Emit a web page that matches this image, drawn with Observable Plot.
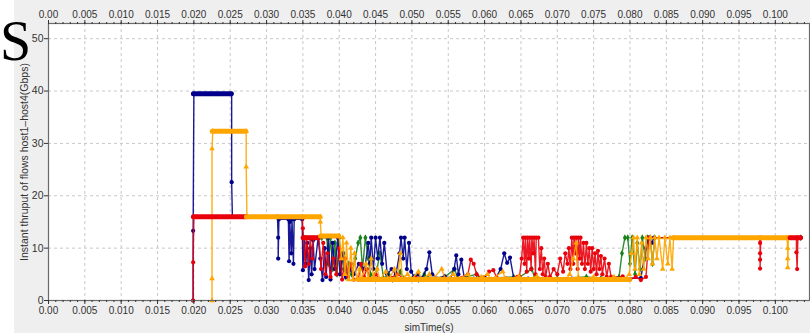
<!DOCTYPE html>
<html><head><meta charset="utf-8">
<script src="https://cdn.jsdelivr.net/npm/d3@7"></script>
<script src="https://cdn.jsdelivr.net/npm/@observablehq/plot@0.6"></script>
<style>
html,body{margin:0;padding:0;background:#fff;}
#wrap{position:relative;width:810px;height:333px;overflow:hidden;}
#chart svg{display:block;}
#deco{position:absolute;left:0;top:0;pointer-events:none;}
</style></head><body>
<div id="wrap"><div id="chart"></div>
<svg id="deco" width="60" height="90"><text x="0" y="60" font-size="56" font-family="Liberation Serif" fill="#000">S</text></svg>
</div>
<script>
// ---- data (time in s, thruput in Gbps) ----
const SERIES = ["flow1", "flow2", "flow3", "flow4"];
const COLORS = ["#00008b", "#e8000b", "#ffa500", "#1a801a"];
const SYMBOLS = ["circle", "circle", "triangle", "diamond"];

const flow1 = [ // navy
[0.0199,0],[0.0199,13.3],[0.0200,39.5],[0.0252,39.5],[0.0252,22.6],[0.0253,16],
[0.0315,16],[0.0316,12],[0.0316,8],[0.0317,15.5],
[0.0330,15.5],[0.0331,7.5],[0.0332,15],[0.0334,9],[0.0335,15.5],[0.0337,7],[0.0338,15.5],
[0.0349,15.5],[0.0350,5.8],[0.0352,12],[0.0354,7],[0.0356,11],[0.0358,3.9],[0.0360,10],[0.0362,5],[0.0364,11.5],[0.0366,6],
[0.0371,12],[0.0374,8],[0.0377,3.9],[0.0380,10],[0.0382,4.5],[0.0385,12],[0.0388,4],[0.0391,11],[0.0394,6],[0.0398,12],[0.0401,5],[0.0405,9],[0.0409,4.5],[0.0414,6],[0.0420,5],[0.0427,7],
[0.0435,6],[0.0440,11],[0.0442,7],[0.0444,12],[0.0447,6],[0.0450,12],[0.0453,8],[0.0456,12],[0.0459,7],[0.0462,11],[0.0466,5],[0.0472,6],[0.0478,5],
[0.0483,9],[0.0485,12],[0.0488,8],[0.0490,12],[0.0493,6],[0.0496,11],[0.0499,5.5],[0.0503,4.5],[0.0508,5],[0.0514,4.2],[0.0520,6],[0.0524,9.2],[0.0528,5],[0.0534,4.2],[0.0545,4.6],[0.0553,4.2],
[0.0558,6],[0.0561,8.6],[0.0564,5],[0.0568,7.8],[0.0572,4.3],[0.0585,4.2],[0.0600,4.4],[0.0615,4.2],
[0.0622,6],[0.0627,9],[0.0631,7.2],[0.0635,8.2],[0.0640,4.3],[0.0660,4.2],[0.0720,4.2],[0.0790,4.2],
[0.0815,4.3],[0.0822,10],[0.0826,12],[0.0830,11],[0.0833,12],[0.1035,12]
];
const flow2 = [ // red
[0.0199,0],[0.0199,7.3],[0.0200,16],[0.0272,16],[0.0349,16],[0.0350,13.8],[0.0351,12],
[0.0353,6.5],[0.0355,12],[0.0358,7],[0.0360,12],[0.0363,8],[0.0365,12],[0.0372,12],
[0.0375,6],[0.0378,11],[0.0381,5],[0.0384,9],[0.0388,4.5],[0.0392,8],[0.0396,5],[0.0400,10],[0.0404,4],[0.0408,8],[0.0412,4.5],[0.0416,7],[0.0420,4],[0.0426,4],[0.0430,7],[0.0434,4.5],[0.0438,6],[0.0443,4],[0.0450,5],[0.0456,4],[0.0470,4.3],[0.0480,5],[0.0490,4.2],[0.0505,4.4],[0.0525,4.2],[0.0545,4.3],[0.0562,4.2],
[0.0577,5],[0.0581,7.8],[0.0585,7],[0.0589,5],[0.0597,4.2],[0.0606,5.5],[0.0612,5.8],[0.0617,4.3],[0.0630,4.2],[0.0645,4.5],
[0.0648,4.5],[0.0651,8],[0.0653,12],[0.0655,7],[0.0656,12],[0.0658,5.5],[0.0659,12],[0.0661,8],[0.0662,12],[0.0664,6],[0.0665,12],[0.0667,9],[0.0668,12],[0.0670,5],[0.0671,12],[0.0674,12],[0.0676,6],[0.0678,10],[0.0680,5],[0.0682,8],[0.0684,4.5],[0.0687,7],[0.0690,4.5],[0.0695,6],[0.0700,5],[0.0704,8],[0.0708,5.5],[0.0711,9],
[0.0714,7],[0.0716,10],[0.0718,6],[0.0720,12],[0.0722,7],[0.0723,12],[0.0725,9],[0.0726,12],[0.0728,6],[0.0729,12],[0.0731,8],[0.0732,12],[0.0734,7],[0.0736,11],[0.0738,6],[0.0740,11],[0.0742,7],[0.0744,10],[0.0746,5.5],[0.0748,10],[0.0750,6],[0.0752,9],[0.0754,5],[0.0756,9.5],[0.0758,6],[0.0760,8.5],[0.0762,5],[0.0765,8],[0.0768,4.5],[0.0771,7],[0.0774,4.5],[0.0780,4.3],[0.0790,4.6],[0.0800,4],[0.0808,4.5],[0.0815,3.9],[0.0822,4.5],[0.0826,12],
[0.0978,12],[0.0979,11],[0.0979,9],[0.0979,7.8],[0.0979,6.1],[0.0980,12],[0.1029,12],[0.1029,9.2],[0.1030,6],[0.1031,12],[0.1035,12]
];
const flow3 = [ // orange
[0.0225,0],[0.0225,4.2],[0.0225,29],[0.0226,32.3],[0.0272,32.3],[0.0272,25.5],[0.0273,16],[0.0374,16],[0.0374,15],[0.0375,12.3],[0.0400,12.3],
[0.0403,8],[0.0405,12],[0.0408,5],[0.0410,11],[0.0413,4],[0.0416,10],[0.0419,4],[0.0421,9],[0.0424,4],[0.0428,6],[0.0431,4],
[0.0437,7],[0.0440,4],[0.0444,8],[0.0447,4.5],[0.0452,6],[0.0456,4],[0.0464,5.5],[0.0468,4],[0.0476,6],[0.0480,4],[0.0484,9],[0.0487,4.2],[0.0494,5],[0.0499,4],[0.0509,5.5],[0.0513,4],[0.0524,5],[0.0528,4],[0.0541,6],[0.0546,4],[0.0557,5],[0.0561,4],[0.0577,5],[0.0581,4],[0.0596,4.5],[0.0604,5],[0.0609,4],[0.0625,5.5],[0.0629,4],[0.0647,4.6],[0.0655,4],[0.0672,4.6],[0.0685,4],[0.0712,4],[0.0717,5],[0.0722,8],[0.0726,11],[0.0729,4.5],[0.0735,4],[0.0750,4.5],[0.0764,4],[0.0778,4.5],[0.0792,4],
[0.0799,5],[0.0802,9],[0.0805,12],[0.0807,6],[0.0810,12],[0.0813,5],[0.0816,11],[0.0819,6],[0.0822,12],[0.0825,8],[0.0828,12],[0.0831,7],[0.0834,12],[0.0837,8],[0.0840,12],[0.0845,6],[0.0848,12],[0.0852,7],[0.0855,12],[0.0858,6],[0.0860,12],
[0.1016,12],[0.1017,10],[0.1017,8],[0.1017,6.3],[0.1018,12],[0.1021,12]
];
const flow4 = [ // green
[0.0376,12],[0.0383,12],[0.0385,7],[0.0388,12],[0.0391,6],[0.0394,11],[0.0397,5],[0.0400,12],[0.0403,6],[0.0406,9],[0.0409,4.5],[0.0413,7],[0.0417,5],[0.0422,8],[0.0426,11],[0.0429,12],[0.0432,6],[0.0436,12],[0.0440,8],[0.0443,5],[0.0447,4.5],[0.0452,6],[0.0456,9],[0.0461,4.2],[0.0468,5],[0.0473,4],[0.0484,5.5],[0.0489,4.2],[0.0503,4.5],[0.0509,4],[0.0517,5],[0.0522,4.2],[0.0545,4.5],[0.0559,6],[0.0563,4.2],[0.0589,5],[0.0594,4.2],[0.0640,4.5],[0.0645,4.2],[0.0665,6],[0.0669,4.3],[0.0700,4.2],[0.0740,4.5],[0.0760,4.2],[0.0785,4.5],[0.0789,9],[0.0793,12],[0.0797,12],[0.0800,7],[0.0803,12],[0.0807,5],[0.0810,11],[0.0814,6],[0.0817,12],[0.0821,8],[0.0824,12],[0.0828,12],[0.0831,7],[0.0834,12],[0.1035,12]
];

// sustained levels (dense marker runs in the original)
const plateauSeries = ["flow1","flow3","flow2","flow3","flow2","flow3","flow3","flow3","flow2"];
const plateauStart  = [0.0200, 0.0226, 0.0200, 0.0273, 0.0351, 0.0375, 0.0428, 0.0860, 0.1021];
const plateauEnd    = [0.0252, 0.0272, 0.0272, 0.0374, 0.0372, 0.0400, 0.0800, 0.1017, 0.1035];
const plateauLevel  = [39.5, 32.3, 16, 16, 12, 12.3, 4, 12, 12];

const X_TICKS = d3.range(0, 0.1001, 0.005);
const X_MINOR = d3.range(0, 0.1047, 0.001);
const Y_TICKS = [0, 10, 20, 30, 40, 50];

// ---- build ----
const seriesData = {flow1, flow2, flow3, flow4};
const rowsOf = (name) => seriesData[name].map(([t, v]) => ({s: name, t, v}));
const plateaus = plateauSeries.map((s, i) => ({s, t0: plateauStart[i], t1: plateauEnd[i], v: plateauLevel[i]}));
const fmt = (d) => d === 0 ? "0.00" : d.toFixed(3);

const drawOrder = ["flow4", "flow1", "flow2", "flow3"];
const dataMarks = drawOrder.flatMap((name) => {
  const rows = rowsOf(name);
  return [
    Plot.line(rows, {x: "t", y: "v", stroke: "s", strokeWidth: 1.4, strokeOpacity: 0.9}),
    Plot.dot(rows, {x: "t", y: "v", fill: "s", symbol: "s", r: 2.1, stroke: "none"})
  ];
});

const chart = Plot.plot({
  width: 810, height: 333,
  marginLeft: 48, marginRight: 1, marginTop: 23, marginBottom: 33,
  style: {background: "linear-gradient(to right, #ffffff 14px, #efefef 14px)", fontFamily: "'Liberation Sans', Arial, sans-serif", fontSize: "10px", color: "#333", overflow: "visible"},
  x: {domain: [0, 0.1047]},
  y: {domain: [0, 52.9]},
  color: {domain: SERIES, range: COLORS},
  symbol: {domain: SERIES, range: SYMBOLS},
  marks: [
    Plot.frame({fill: "white", stroke: "none"}),
    Plot.gridX(X_TICKS, {stroke: "#c8c8c8", strokeOpacity: 1, strokeDasharray: "3,3"}),
    Plot.gridY(Y_TICKS, {stroke: "#c8c8c8", strokeOpacity: 1, strokeDasharray: "3,3"}),
    ...dataMarks,
    Plot.ruleY(plateaus, {y: "v", x1: "t0", x2: "t1", stroke: "s", strokeWidth: 5, strokeLinecap: "round"}),
    Plot.frame({stroke: "#6a6a6a", strokeWidth: 1.2}),
    Plot.axisX(X_MINOR, {anchor: "top", tickSize: 2, tickFormat: () => "", label: null}),
    Plot.axisX(X_MINOR, {anchor: "bottom", tickSize: 2, tickFormat: () => "", label: null}),
    Plot.axisX(X_TICKS, {anchor: "top", tickSize: 4, tickPadding: 2, tickFormat: fmt, label: null}),
    Plot.axisX(X_TICKS, {anchor: "bottom", tickSize: 4, tickPadding: 2, tickFormat: fmt, label: "simTime(s)", labelAnchor: "center", labelArrow: "none", labelOffset: 30}),
    Plot.axisY(Y_TICKS, {anchor: "left", tickSize: 4, tickPadding: 1, label: "Instant thruput of flows host1–host4(Gbps)", labelAnchor: "center", labelArrow: "none", labelOffset: 28, fontSize: 10.5})
  ]
});
document.getElementById("chart").appendChild(chart);
</script>
</body></html>
